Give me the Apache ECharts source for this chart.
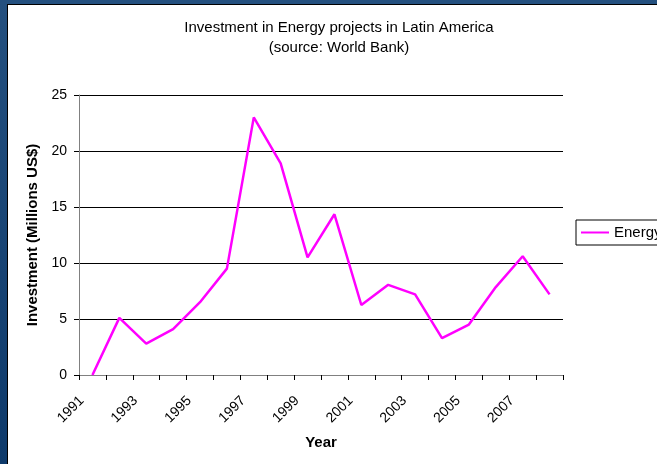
<!DOCTYPE html>
<html>
<head>
<meta charset="utf-8">
<script src="https://cdn.jsdelivr.net/npm/echarts@6/dist/echarts.min.js"></script>
<style>
    html, body { margin: 0; padding: 0; background: #fff; }
    #energy { width: 657px; height: 464px; }
</style>
</head>
<body>
<div id="energy"></div>
<script>
// Data
var years = ['1991', '1992', '1993', '1994', '1995', '1996', '1997', '1998', '1999',
             '2000', '2001', '2002', '2003', '2004', '2005', '2006', '2007', '2008'];
var energy = [0, 5.1, 2.8, 4.1, 6.5, 9.5, 23.0, 18.9, 10.5,
              14.35, 6.25, 8.05, 7.2, 3.3, 4.5, 7.85, 10.6, 7.2];
var seriesNames = ['Energy'];

var EchartsLineEnergy = function() {

    var _lineEnergyExample = function() {
        if (typeof echarts == 'undefined') {
            console.warn('Warning - echarts.min.js is not loaded.');
            return;
        }

        // Define element
        var line_element = document.getElementById('energy');
        if (!line_element) return;

        // Initialize chart
        var line_chart = echarts.init(line_element);

        // Options
        line_chart.setOption({
            animation: false,
            color: ['#ff00ff'],

            // Global text styles
            textStyle: {
                fontFamily: 'Liberation Sans, Arial, sans-serif',
                fontSize: 14,
                color: '#000'
            },

            // Blue frame on the left and top
            graphic: [
                {
                    type: 'rect',
                    shape: { x: 0, y: 0, width: 7, height: 464 },
                    style: {
                        fill: new echarts.graphic.LinearGradient(0, 0, 0, 1, [
                            { offset: 0, color: '#24507f' },
                            { offset: 1, color: '#0e3a6b' }
                        ])
                    }
                },
                {
                    type: 'rect',
                    shape: { x: 0, y: 0, width: 657, height: 4 },
                    style: { fill: '#24507f' }
                },
                {
                    type: 'rect',
                    shape: { x: 7, y: 4, width: 1, height: 460 },
                    style: { fill: '#000' }
                },
                {
                    type: 'rect',
                    shape: { x: 7, y: 4, width: 650, height: 1 },
                    style: { fill: '#000' }
                }
            ],

            // Title
            title: {
                text: 'Investment in Energy projects in Latin America\n(source: World Bank)',
                left: 334,
                textAlign: 'center',
                top: 13,
                textStyle: {
                    fontFamily: 'Liberation Sans, Arial, sans-serif',
                    fontSize: 15,
                    fontWeight: 'normal',
                    color: '#000',
                    lineHeight: 20
                }
            },

            // Legend
            legend: {
                data: seriesNames,
                orient: 'vertical',
                left: 576,
                top: 220,
                padding: [5, 6, 5, 5],
                borderColor: '#000',
                borderWidth: 1,
                backgroundColor: '#fff',
                icon: 'rect',
                itemWidth: 28,
                itemHeight: 2,
                itemGap: 0,
                textStyle: {
                    fontFamily: 'Liberation Sans, Arial, sans-serif',
                    fontSize: 15,
                    color: '#000'
                }
            },

            grid: {
                left: 79,
                top: 95,
                right: 94,
                bottom: 89,
                containLabel: false
            },

            xAxis: {
                type: 'category',
                data: years,
                boundaryGap: true,
                name: 'Year',
                nameLocation: 'middle',
                nameGap: 60,
                nameTextStyle: {
                    fontFamily: 'Liberation Sans, Arial, sans-serif',
                    fontSize: 15,
                    fontWeight: 'bold',
                    color: '#000'
                },
                axisLine: { show: true, lineStyle: { color: '#808080', width: 1 } },
                axisTick: { show: true, interval: 0, length: 5, lineStyle: { color: '#000' } },
                axisLabel: {
                    interval: 1,
                    rotate: 45,
                    margin: 13,
                    padding: [0, 15, 0, 0],
                    fontSize: 14,
                    color: '#000'
                },
                splitLine: { show: false }
            },

            yAxis: {
                type: 'value',
                min: 0,
                max: 25,
                interval: 5,
                name: 'Investment (Millions US$)',
                nameLocation: 'middle',
                nameGap: 39,
                nameTextStyle: {
                    fontFamily: 'Liberation Sans, Arial, sans-serif',
                    fontSize: 15,
                    fontWeight: 'bold',
                    color: '#000'
                },
                axisLine: { show: true, lineStyle: { color: '#808080', width: 1 } },
                axisTick: { show: true, length: 5, lineStyle: { color: '#000' } },
                axisLabel: { margin: 12, fontSize: 14, color: '#000' },
                splitLine: { show: true, lineStyle: { color: '#000', width: 1 } }
            },

            series: [{
                name: seriesNames[0],
                type: 'line',
                data: energy,
                symbol: 'none',
                lineStyle: { width: 2.5, color: '#ff00ff' }
            }]
        });
    };

    return {
        init: function() {
            _lineEnergyExample();
        }
    };
}();

document.addEventListener('DOMContentLoaded', function() {
    EchartsLineEnergy.init();
});
</script>
</body>
</html>
